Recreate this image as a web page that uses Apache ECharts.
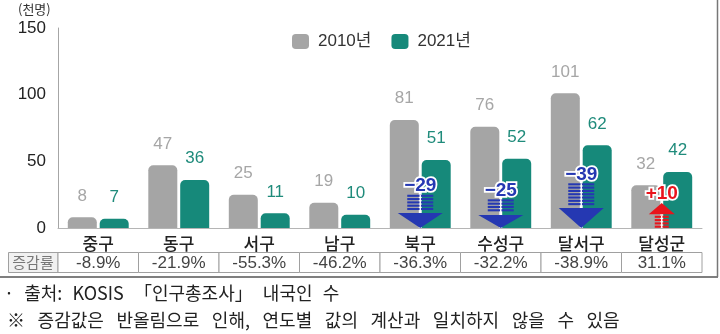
<!DOCTYPE html>
<html><head><meta charset="utf-8">
<script src="https://cdn.jsdelivr.net/npm/echarts@6/dist/echarts.min.js"></script>
<style>html,body{margin:0;padding:0;background:#fff}#c{width:720px;height:334px}</style>
</head><body><div id="c"></div>
<script>
const categories = ['중구','동구','서구','남구','북구','수성구','달서구','달성군'];
const values2010 = [8,47,25,19,81,76,101,32];
const values2021 = [7,36,11,10,51,52,62,42];
const changeRates = ['-8.9%','-21.9%','-55.3%','-46.2%','-36.3%','-32.2%','-38.9%','31.1%'];
const arrowCategories = ['북구','수성구','달서구','달성군'];
const arrowValues = [-29,-25,-39,10];
const yTicks = [0,50,100,150];
const seriesNames = ['2010년','2021년'];
const unitLabel = '(천명)';
const footnote1 = '· 출처: KOSIS 「인구총조사」 내국인 수';
const footnote2 = '※ 증감값은 반올림으로 인해, 연도별 값의 계산과 일치하지 않을 수 있음';

const FONT = "'Liberation Sans', 'Noto Sans CJK KR', sans-serif";
const KFONT = "'Noto Sans CJK KR', sans-serif";
const GRAY = '#a5a5a5', TEAL = '#16897a';
const wideSpace = (s, sp) => s.split(' ').join(sp);

function renderArrow(params, api) {
  const idx = api.value(0), d = api.value(1);
  const base = api.coord([idx, 0]);
  const cx = base[0], by = base[1];
  const unit = api.size([0, 1])[1];
  const neg = d < 0, m = Math.abs(d);
  const L = Math.max(m * unit * 0.86, 25);
  const th = L * 0.45;
  const color = neg ? '#2538b2' : '#e8141c';
  const tw = neg ? 45 : 26;
  const sw = neg ? 26 : 14;
  const children = [];
  let sTop, sBot, tri;
  if (neg) {
    tri = [[cx - tw / 2, by - th], [cx + tw / 2, by - th], [cx, by]];
    sTop = by - L; sBot = by - th - 2;
  } else {
    tri = [[cx - tw / 2, by - L + th], [cx + tw / 2, by - L + th], [cx, by - L]];
    sTop = by - L + th + 1.5; sBot = by;
  }
  const pitch = 3.3, sh = 2.1;
  for (let y = sTop; y + sh <= sBot + 0.01; y += pitch) {
    children.push({type: 'rect', shape: {x: cx - sw / 2, y: y, width: sw, height: sh}, style: {fill: color}});
  }
  children.push({type: 'rect', shape: {x: cx - 0.7, y: sTop, width: 1.4, height: sBot - sTop}, style: {fill: '#fff'}});
  children.push({type: 'polygon', shape: {points: tri}, style: {fill: color}});
  children.push({type: 'text', style: {
    text: (neg ? '\u2212' : '+') + m, x: cx, y: by - L - 9,
    align: 'center', verticalAlign: 'middle',
    font: "bold 19px " + FONT, fill: color, stroke: '#fff', lineWidth: 3.5
  }});
  return {type: 'group', children: children};
}

function renderCell(params, api) {
  const idx = api.value(0);
  const c = api.coord([idx, 0]);
  const w = api.size([1, 0])[0];
  return {type: 'group', children: [
    {type: 'rect', shape: {x: c[0] - w / 2, y: c[1] + 24.5, width: w, height: 20},
     style: {fill: '#fff', stroke: '#a0a0a0', lineWidth: 1}},
    {type: 'text', style: {text: changeRates[idx], x: c[0], y: c[1] + 35,
     align: 'center', verticalAlign: 'middle', font: "17px " + FONT, fill: '#444'}}
  ]};
}

const chart = echarts.init(document.getElementById('c'), null, {renderer: 'canvas'});
chart.setOption({
  animation: false,
  backgroundColor: '#fff',
  grid: {left: 58, right: 18, top: 28, bottom: 106, containLabel: false},
  legend: {
    left: 287, top: 28, itemWidth: 17, itemHeight: 15, itemGap: 20,
    icon: 'roundRect',
    data: seriesNames,
    textStyle: {fontSize: 17, color: '#333', fontFamily: FONT, padding: [0, 0, 0, 4]}
  },
  xAxis: {
    type: 'category', data: categories,
    axisLine: {lineStyle: {color: '#b5b5b5', width: 1}},
    axisTick: {show: false},
    axisLabel: {fontSize: 17, color: '#222', margin: 7, fontFamily: KFONT, fontWeight: 500}
  },
  yAxis: {
    type: 'value', min: yTicks[0], max: yTicks[yTicks.length - 1], interval: yTicks[1] - yTicks[0],
    axisLine: {show: true, lineStyle: {color: '#a6a6a6'}},
    axisTick: {show: false}, splitLine: {show: false},
    axisLabel: {fontSize: 17, color: '#222', margin: 12, fontFamily: FONT, padding: [0, 0, 3, 0]}
  },
  series: [
    {name: seriesNames[0], type: 'bar', data: values2010, barWidth: 29, barGap: '10%',
     itemStyle: {color: GRAY, borderRadius: [5, 5, 0, 0]},
     label: {show: true, position: 'top', distance: 13, fontSize: 17, color: '#a6a6a6', fontFamily: FONT}},
    {name: seriesNames[1], type: 'bar', data: values2021, barWidth: 29,
     itemStyle: {color: TEAL, borderRadius: [5, 5, 0, 0]},
     label: {show: true, position: 'top', distance: 13, fontSize: 17, color: '#1f8b7b', fontFamily: FONT}},
    {type: 'custom', name: 'arrows', z: 10, renderItem: renderArrow,
     encode: {x: 0, y: 1},
     data: arrowCategories.map((c, i) => [c, arrowValues[i]])},
    {type: 'custom', name: 'table', z: 10, renderItem: renderCell, clip: false,
     encode: {x: 0, y: 1},
     data: categories.map(c => [c, 0])}
  ],
  graphic: [
    {type: 'text', left: 18, top: 3, style: {text: unitLabel, font: "13px " + KFONT, fill: '#333'}},
    {type: 'rect', shape: {x: 8.5, y: 252.5, width: 49.5, height: 20}, style: {fill: '#f1f1f1', stroke: '#a0a0a0', lineWidth: 1}},
    {type: 'text', x: 33, y: 262.5, style: {text: '증감률', font: "15px " + KFONT, fill: '#777', align: 'center', verticalAlign: 'middle'}},
    {type: 'line', shape: {x1: 0, y1: 277, x2: 718, y2: 277}, style: {stroke: '#555', lineWidth: 1.5}},
    {type: 'line', shape: {x1: 717.5, y1: 0, x2: 717.5, y2: 277}, style: {stroke: '#777', lineWidth: 1.5}},
    {type: 'text', x: 4, y: 293, style: {text: wideSpace(footnote1, '\u2002\u200a'), font: "18px " + KFONT, fill: '#222', verticalAlign: 'middle'}},
    {type: 'text', x: 7, y: 320, style: {text: wideSpace(footnote2, '\u2002\u2009'), font: "18px " + KFONT, fill: '#222', verticalAlign: 'middle'}}
  ]
});
</script>
</body></html>
